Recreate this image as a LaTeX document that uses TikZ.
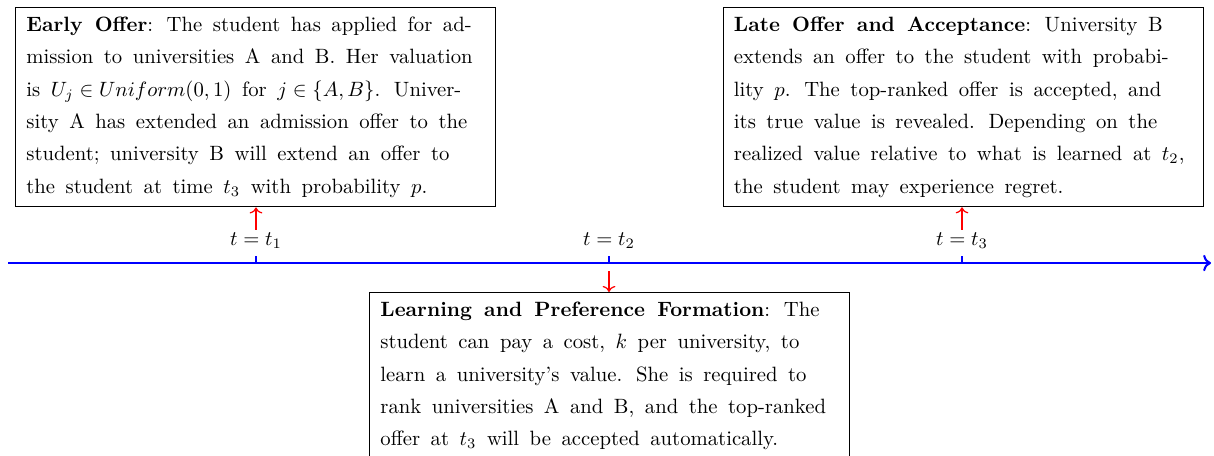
\documentclass[tikz,border=0pt]{standalone}
\usetikzlibrary{arrows.meta}
\newcommand{\boxfont}{\fontsize{10pt}{15.65pt}\selectfont}
\newcommand{\setspaces}{\spaceskip=5.1pt plus 0.5pt minus 0.3pt\relax
  \xspaceskip=6.6pt plus 0.5pt minus 0.3pt\relax}
\newcommand{\hd}[1]{{\bfseries\spaceskip=5.9pt plus 0.5pt minus 0.3pt\relax #1}}
\begin{document}
\begin{tikzpicture}[x=0.4831pt,y=-0.4831pt,
  infobox/.style={draw=black, line width=0.45pt, align=left, text width=221.3pt,
    inner xsep=5.3pt, inner ysep=4.5pt, font=\boxfont, execute at begin node=\setspaces},
  tlabel/.style={inner sep=1pt, anchor=base, font=\fontsize{10pt}{12pt}\selectfont},
  axis/.style={blue, line width=1pt},
  tick/.style={blue, line width=0.8pt},
  pointer/.style={red, line width=0.6pt, ->}]
\clip (0,0) rectangle (1214,455);
% boxes
\node[infobox, anchor=north west] (early) at (15,7) {\hd{Early Offer}: The student has applied for ad-\\
mission to universities A and B. Her valuation\\
is $U_j \in Uniform(0,1)$ for $j \in \{A,B\}$. Univer-\\
sity A has extended an admission offer to the\\
student; university B will extend an offer to\\
the student at time $t_3$ with probability $p$.};
\node[infobox, anchor=north west] (late) at (722.5,7) {\hd{Late Offer and Acceptance}: University B\\
extends an offer to the student with probabi-\\
lity $p$. The top-ranked offer is accepted, and\\
its true value is revealed. Depending on the\\
realized value relative to what is learned at $t_2$,\\
the student may experience regret.};
\node[infobox, anchor=north west] (learn) at (369,292) {\hd{Learning and Preference Formation}: The\\
student can pay a cost, $k$ per university, to\\
learn a university's value. She is required to\\
rank universities A and B, and the top-ranked\\
offer at $t_3$ will be accepted automatically.};
% axis
\coordinate (axs) at (8,263);
\coordinate (axe) at (1211,263);
\draw[axis,->] (axs) -- (axe);
\coordinate (p1) at (256,263);
\coordinate (p2) at (609,263);
\coordinate (p3) at (962,263);
\coordinate (q1) at (256,256);
\coordinate (q2) at (609,256);
\coordinate (q3) at (962,256);
\draw[tick] (p1) -- (q1);
\draw[tick] (p2) -- (q2);
\draw[tick] (p3) -- (q3);
% labels
\node[tlabel] (l1) at (256,245) {$t = t_1$};
\node[tlabel] (l2) at (609,245) {$t = t_2$};
\node[tlabel] (l3) at (962,245) {$t = t_3$};
% pointers
\coordinate (s2) at (609,271);
\draw[pointer] (l1.north) -- (l1.north |- early.south);
\draw[pointer] (l3.north) -- (l3.north |- late.south);
\draw[pointer] (s2) -- (s2 |- learn.north);
\end{tikzpicture}
\end{document}
